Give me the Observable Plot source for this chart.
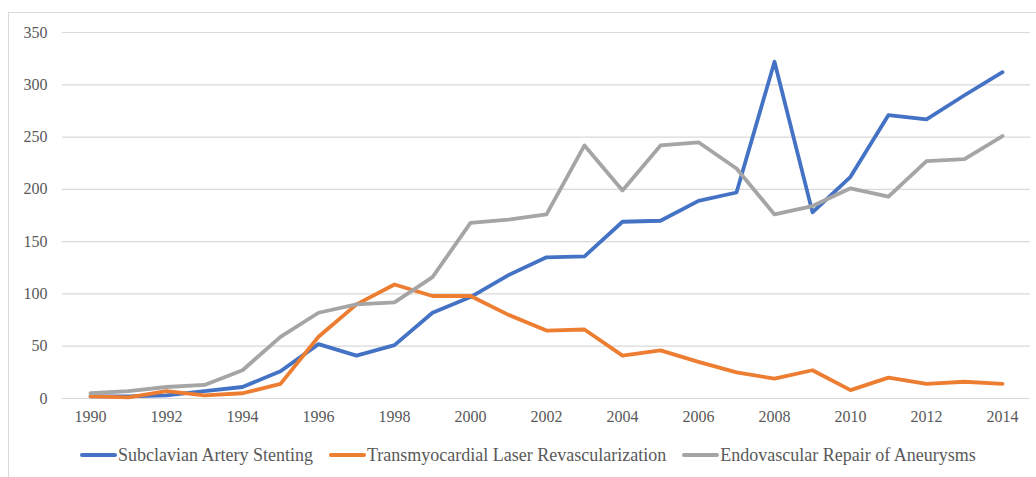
<!DOCTYPE html>
<html>
<head>
<meta charset="utf-8">
<script src="https://cdn.jsdelivr.net/npm/d3@7"></script>
<script src="https://cdn.jsdelivr.net/npm/@observablehq/plot@0.6"></script>
<style>
  html, body { margin: 0; padding: 0; background: #fff; }
  #wrap { position: relative; width: 1036px; height: 477px; overflow: hidden; font-family: "Liberation Serif", "Times New Roman", serif; }
  #frame { position: absolute; left: 8px; top: 12px; width: 1100px; height: 600px; border-left: 1px solid #d9d9d9; border-top: 1px solid #d9d9d9; }
  #chart { position: absolute; left: 0; top: 0; }
  #legend { position: absolute; left: 80px; top: 445px; display: flex; justify-content: flex-start; gap: 16px; font-size: 18px; color: #595959; line-height: 20px; white-space: nowrap; }
  .item { display: flex; align-items: center; }
  .sw { width: 37px; height: 4px; border-radius: 2px; margin-right: 1px; }
</style>
</head>
<body>
<div id="wrap">
  <div id="frame"></div>
  <div id="chart"></div>
  <div id="legend"></div>
</div>
<script>
const years = [1990,1991,1992,1993,1994,1995,1996,1997,1998,1999,2000,2001,2002,2003,2004,2005,2006,2007,2008,2009,2010,2011,2012,2013,2014];
const subclavian = [2,2,3,7,11,26,52,41,51,82,97,118,135,136,169,170,189,197,322,178,212,271,267,290,312];
const tmr = [2,1,7,3,5,14,59,90,109,98,98,80,65,66,41,46,35,25,19,27,8,20,14,16,14];
const evar = [5,7,11,13,27,59,82,90,92,116,168,171,176,242,199,242,245,220,176,184,201,193,227,229,251];
const seriesNames = ["Subclavian Artery Stenting", "Transmyocardial Laser Revascularization", "Endovascular Repair of Aneurysms"];
const seriesColors = ["#4472C4", "#ED7D31", "#A5A5A5"];
const yTicks = [0,50,100,150,200,250,300,350];
const xTicks = [1990,1992,1994,1996,1998,2000,2002,2004,2006,2008,2010,2012,2014];

const allValues = [subclavian, tmr, evar];
const rows = [];
allValues.forEach((vals, si) => {
  vals.forEach((v, i) => rows.push({year: years[i], value: v, series: seriesNames[si]}));
});

const fontStack = "'Liberation Serif', 'Times New Roman', serif";
const plot = Plot.plot({
  width: 1036,
  height: 440,
  marginLeft: 62,
  marginRight: 6,
  marginTop: 32,
  marginBottom: 42,
  style: { fontFamily: fontStack, fontSize: "16px", color: "#595959", background: "transparent" },
  x: { type: "point", domain: years, padding: 0.5, label: null },
  y: { domain: [0, 350], label: null },
  color: { domain: seriesNames, range: seriesColors },
  marks: [
    Plot.ruleY(yTicks, { stroke: "#d9d9d9", strokeWidth: 1.2 }),
    Plot.axisY({ ticks: yTicks, tickSize: 0, tickPadding: 15, label: null, fill: "#595959", fontSize: 16 }),
    Plot.axisX({ ticks: xTicks, tickSize: 0, tickPadding: 12, label: null, fill: "#595959", fontSize: 16, tickFormat: d => String(d) }),
    Plot.line(rows, { x: "year", y: "value", z: "series", stroke: "series", strokeWidth: 3.8, strokeLinejoin: "round", strokeLinecap: "round" })
  ]
});
document.getElementById("chart").appendChild(plot);

const legend = document.getElementById("legend");
seriesNames.forEach((name, i) => {
  const item = document.createElement("div");
  item.className = "item";
  const sw = document.createElement("span");
  sw.className = "sw";
  sw.style.background = seriesColors[i];
  const t = document.createElement("span");
  t.textContent = name;
  item.appendChild(sw);
  item.appendChild(t);
  legend.appendChild(item);
});
</script>
</body>
</html>
